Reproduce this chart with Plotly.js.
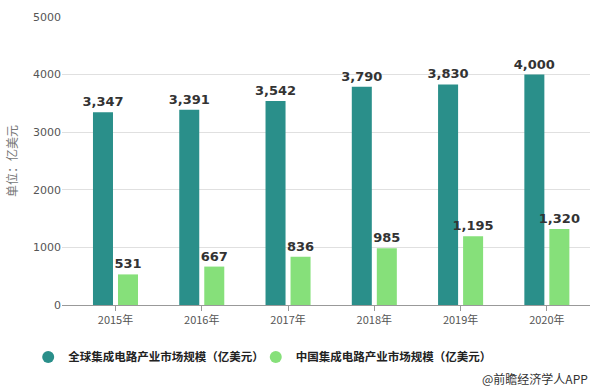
<!DOCTYPE html>
<html>
<head>
<meta charset="utf-8">
<script src="https://cdn.plot.ly/plotly-3.0.1.min.js"></script>
<style>html,body{margin:0;padding:0;background:#fff;}#chart{width:600px;height:391px;}</style>
</head>
<body>
<div id="chart"></div>
<script>
const categories = ["2015年","2016年","2017年","2018年","2019年","2020年"];
const globalValues = [3347, 3391, 3542, 3790, 3830, 4000];
const chinaValues = [531, 667, 836, 985, 1195, 1320];
const seriesNames = ["全球集成电路产业市场规模（亿美元）","中国集成电路产业市场规模（亿美元）"];
const colors = ["#2a8f8a", "#86e07a"];

const labelFont = {family: "DejaVu Sans, sans-serif", size: 13, color: "#333", weight: "bold"};
const traces = [
  {type: "bar", x: categories, y: globalValues, name: seriesNames[0], marker: {color: colors[0]},
   texttemplate: "%{y:,}", textposition: "outside", textfont: labelFont, constraintext: "none", cliponaxis: false, showlegend: false, hoverinfo: "none"},
  {type: "bar", x: categories, y: chinaValues, name: seriesNames[1], marker: {color: colors[1]},
   texttemplate: "%{y:,}", textposition: "outside", textfont: labelFont, constraintext: "none", cliponaxis: false, showlegend: false, hoverinfo: "none"},
  {type: "scatter", mode: "markers", x: [null], y: [null], name: seriesNames[0], marker: {color: colors[0], size: 12, symbol: "circle"}, showlegend: true, legend: "legend"},
  {type: "scatter", mode: "markers", x: [null], y: [null], name: seriesNames[1], marker: {color: colors[1], size: 12, symbol: "circle"}, showlegend: true, legend: "legend2"}
];

const legendFont = {size: 11.5, color: "#222", weight: "bold", family: "Noto Sans CJK SC, sans-serif"};
const layout = {
  width: 600, height: 391,
  margin: {l: 62, r: 10, t: 17, b: 86},
  paper_bgcolor: "#fff", plot_bgcolor: "#fff",
  font: {family: "Noto Sans CJK SC, sans-serif", color: "#555", size: 11},
  barmode: "group", bargap: 0.42, bargroupgap: 0.2,
  uniformtext: {mode: false},
  xaxis: {type: "category", range: [-0.62, 5.5], showline: true, linecolor: "#999", linewidth: 1,
          ticks: "outside", ticklen: 5, tickcolor: "#999", showgrid: false,
          tickfont: {size: 11, color: "#555", family: "Noto Sans CJK SC, sans-serif"}},
  yaxis: {range: [0, 5000], tickvals: [0,1000,2000,3000,4000,5000], ticktext: ["0","1000","2000","3000","4000","5000"],
          showgrid: true, gridcolor: "#e0e0e0", zeroline: false, showline: false,
          tickfont: {size: 11, color: "#555", family: "DejaVu Sans, sans-serif"},
          title: {text: "单位：亿美元", font: {size: 12, color: "#777"}, standoff: 12}},
  legend: {orientation: "h", x: -0.064, xanchor: "left", y: -0.13, yanchor: "top", bgcolor: "rgba(0,0,0,0)",
           font: legendFont, itemsizing: "constant", itemwidth: 30},
  legend2: {orientation: "h", x: 0.367, xanchor: "left", y: -0.13, yanchor: "top", bgcolor: "rgba(0,0,0,0)",
           font: legendFont, itemsizing: "constant", itemwidth: 30},
  annotations: [{text: "@前瞻经济学人APP", xref: "paper", yref: "paper", x: 1.0, y: -0.29, xanchor: "right", yanchor: "bottom",
                 showarrow: false, font: {size: 12, color: "#333", family: "Noto Sans CJK SC, sans-serif"}}]
};

Plotly.newPlot("chart", traces, layout, {displayModeBar: false, staticPlot: true});
</script>
</body>
</html>
